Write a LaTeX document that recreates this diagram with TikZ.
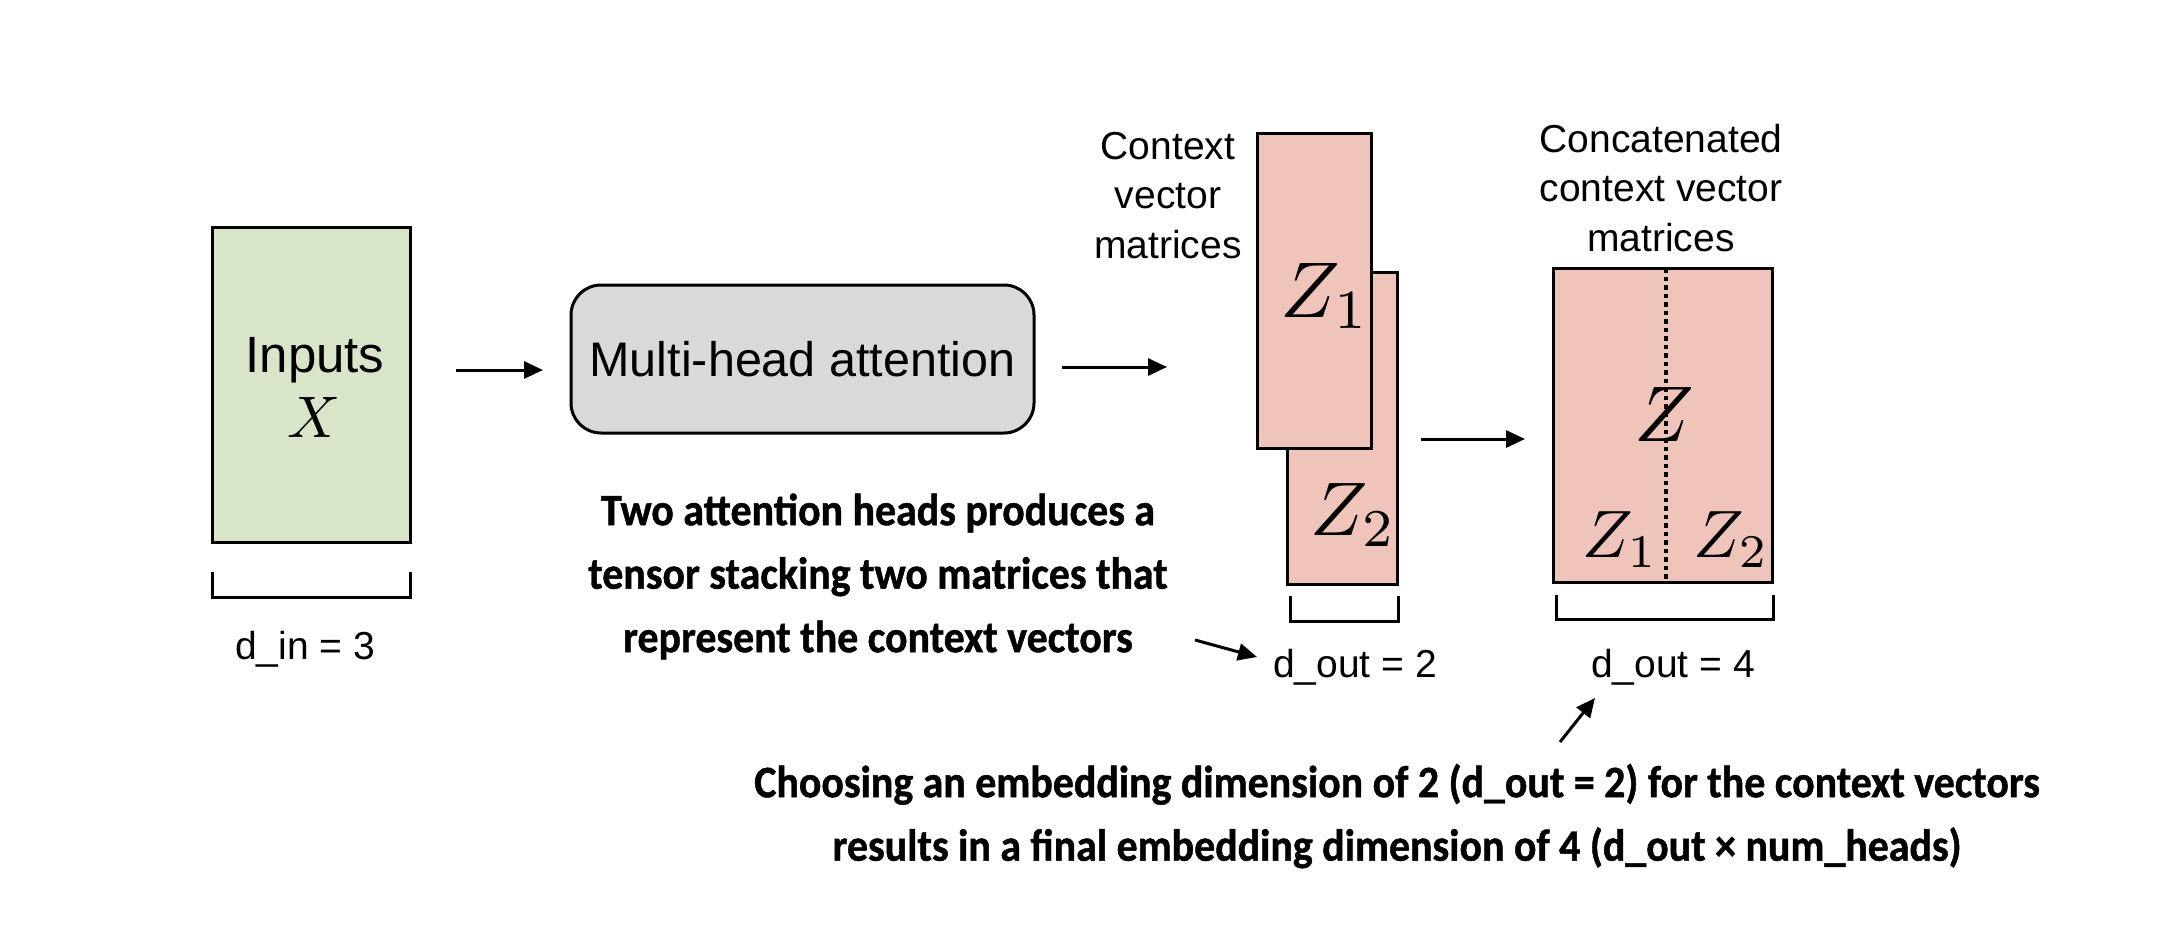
\documentclass[tikz,border=0pt]{standalone}
\usepackage[no-math]{fontspec}
\usepackage{graphicx}
\setmainfont{Liberation Sans}
\newfontfamily\boldnote{Carlito}[FakeStretch=0.93, BoldFeatures={FakeBold=1}]
\usetikzlibrary{arrows.meta,calc}
\definecolor{ingreen}{RGB}{217,229,200}
\definecolor{zpink}{RGB}{239,196,186}
\definecolor{mhagrey}{RGB}{217,217,217}
\begin{document}
\begin{tikzpicture}[x=1pt,y=-1pt,
  box/.style={draw=black, line width=3pt, inner sep=0pt, outer sep=0pt},
  arr/.style={line width=3pt, -{Triangle[length=19pt,width=17pt]}},
  brk/.style={line width=3pt},
  lbl/.style={inner sep=0pt, font=\fontsize{39}{49.5}\selectfont},
  mth/.style={inner sep=0pt},
  note/.style={inner sep=0pt, align=center, font=\boldnote\bfseries\fontsize{45}{63.5}\selectfont}]
\useasboundingbox (0,0) rectangle (2174,934);
\fill[white] (0,0) rectangle (2174,934);

% boxes
\node[box, fill=ingreen, minimum width=198pt, minimum height=315pt] (inp) at (311,384.5) {};
\node[box, fill=mhagrey, rounded corners=30pt, minimum width=463pt, minimum height=148pt,
      font=\fontsize{48.5}{58}\selectfont] (mha) at (802.5,359) {Multi-head attention};
\node[box, fill=zpink, minimum width=110pt, minimum height=312pt] (z2box) at (1342,428) {};
\node[box, fill=zpink, minimum width=114pt, minimum height=315pt] (z1box) at (1314,290.5) {};
\node[box, fill=zpink, minimum width=219pt, minimum height=314pt] (catbox) at (1662.5,425) {};
\draw[line width=3.2pt, dash pattern=on 4.5pt off 4pt] ([xshift=3.5pt]catbox.north) -- ([xshift=3.5pt]catbox.south);

% texts in boxes
\node[inner sep=0pt, anchor=base, font=\fontsize{51}{60}\selectfont] (inlbl) at (315,372) {Inputs};
\node[mth, anchor=base] (xlbl) at (314,437) {\scalebox{5.86}{$X$}};
\node[mth, anchor=base west] (z1) at (1280,317) {\scalebox{7.9}{$Z_1$}};
\node[mth, anchor=base west] (z2) at (1310,535) {\scalebox{7.6}{$Z_2$}};
\node[mth, anchor=base west] (zc) at (1634,441) {\scalebox{7.9}{$Z$}};
\node[mth, anchor=base west] (zc1) at (1582,557) {\scalebox{6.7}{$Z_1$}};
\node[mth, anchor=base west] (zc2) at (1693,557) {\scalebox{6.7}{$Z_2$}};

% headings
\node[lbl, anchor=north, align=center] (ctx) at (1168,124) {\rule{0pt}{35pt}Context\\vector\\matrices};
\node[lbl, anchor=north, align=center] (cat) at (1661,117) {\rule{0pt}{35pt}Concatenated\\context vector\\matrices};

% brackets
\draw[brk] (212,572) -- (212,597) -- (410,597) -- (410,572);
\draw[brk] (1290,596) -- (1290,621) -- (1398,621) -- (1398,596);
\draw[brk] (1556,595) -- (1556,619) -- (1773,619) -- (1773,595);

% dimension labels
\node[lbl, anchor=base] (din) at (305,659) {d\_in = 3};
\node[lbl, anchor=base] (dout2) at (1355,677) {d\_out = 2};
\node[lbl, anchor=base] (dout4) at (1673,677) {d\_out = 4};

% notes
\node[note, anchor=north] (topnote) at (878,490) {\rule{0pt}{35pt}Two attention heads produces a\\tensor stacking two matrices that\\represent the context vectors};
\node[note, anchor=north] (botnote) at (1397,762) {\rule{0pt}{35pt}Choosing an embedding dimension of 2 (d\_out = 2) for the context vectors\\results in a final embedding dimension of 4 (d\_out × num\_heads)};

% arrows
\draw[arr] ($(inp.east)+(46,-14.5)$) -- ($(mha.west)+(-28,11)$);
\draw[arr] ($(mha.east)+(28,8)$) -- ($(z1box.west)+(-90,76.5)$);
\draw[arr] ($(z2box.east)+(24,11)$) -- ($(catbox.west)+(-28,14)$);
\coordinate (n1) at (1195,640);
\coordinate (n2) at (1560,742);
\draw[arr] (n1) -- ($(dout2.base)+(-98,-20)$);
\draw[arr] (n2) -- ($(dout4.base)+(-78,21)$);
\end{tikzpicture}
\end{document}
